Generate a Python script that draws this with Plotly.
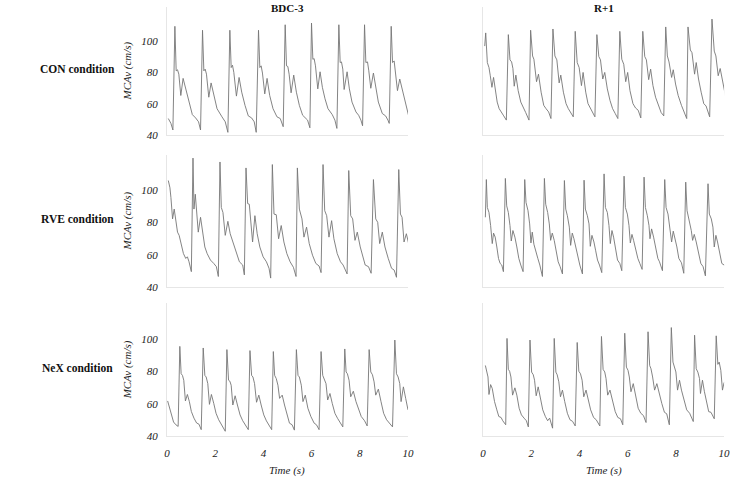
import plotly.graph_objects as go

# ---------------- data: MCAv (cm/s) vs time (s) ----------------
con_bdc_t = [0.055,0.164,0.246,0.328,0.382,0.437,0.492,0.574,0.669,0.779,0.915,1.052,1.188,1.311,
             1.393,1.475,1.530,1.585,1.639,1.735,1.831,1.940,2.076,2.281,2.418,
             2.527,2.609,2.664,2.718,2.773,2.882,2.992,3.101,3.238,3.374,3.511,3.620,
             3.702,3.798,3.852,3.907,3.962,4.057,4.153,4.262,4.399,4.563,4.699,
             4.822,4.904,4.959,5.014,5.068,5.150,5.259,5.369,5.492,5.628,5.833,
             5.929,5.997,6.052,6.106,6.161,6.257,6.352,6.448,6.557,6.680,6.858,6.967,
             7.049,7.131,7.186,7.240,7.295,7.350,7.473,7.568,7.677,7.841,7.951,8.046,
             8.115,8.197,8.251,8.320,8.374,8.456,8.565,8.661,8.770,8.934,9.071,9.167,
             9.221,9.303,9.358,9.426,9.481,9.563,9.658,9.754,9.836,9.932,10.027]
con_bdc_v = [50.7,47.6,43.4,109.5,81.1,81.8,79.0,65.4,76.3,69.6,60.2,53.2,51.1,48.6,
             43.4,107.0,81.1,82.2,79.0,64.3,73.4,65.4,57.0,51.8,48.6,
             41.9,107.0,83.2,84.7,80.1,65.0,76.9,67.5,59.1,52.4,51.1,48.6,
             41.9,107.0,83.2,84.3,79.7,66.4,76.3,65.4,57.0,51.8,50.7,
             45.5,110.5,84.3,83.9,79.0,67.1,78.4,67.5,59.1,52.8,49.7,
             44.8,111.6,88.5,88.9,84.3,69.6,80.5,70.6,63.3,57.0,53.2,49.7,
             44.4,110.5,86.4,86.8,82.2,69.2,80.5,69.6,61.2,54.9,52.8,49.7,
             46.1,110.5,86.4,86.8,81.1,70.0,79.7,69.6,61.2,53.9,52.4,49.7,
             47.6,109.5,86.4,87.4,81.1,68.5,75.9,69.6,65.0,58.7,52.4]

con_r1_t = [0.068,0.109,0.177,0.245,0.299,0.367,0.435,0.503,0.585,0.667,0.776,0.857,
            0.966,1.048,1.116,1.184,1.238,1.293,1.361,1.456,1.565,1.673,1.769,
            1.905,1.973,2.054,2.109,2.218,2.299,2.408,2.517,2.612,2.721,
            2.816,2.898,2.980,3.061,3.156,3.224,3.333,3.442,3.537,3.633,
            3.742,3.823,3.905,3.986,4.082,4.150,4.259,4.354,4.449,4.531,
            4.640,4.721,4.803,4.871,4.966,5.048,5.156,5.265,5.374,5.483,
            5.592,5.673,5.755,5.837,5.918,6.000,6.095,6.218,6.327,6.435,
            6.544,6.626,6.708,6.776,6.871,6.952,7.048,7.156,7.279,7.388,
            7.497,7.578,7.646,7.714,7.823,7.891,7.986,8.095,8.231,8.327,
            8.449,8.503,8.599,8.667,8.776,8.844,8.939,9.048,9.156,9.252,
            9.401,9.497,9.592,9.660,9.755,9.837,9.932,10.068]
con_r1_v = [96.9,105.3,86.4,83.2,78.0,70.6,76.9,69.6,61.2,57.0,53.9,52.4,
            49.7,104.2,88.1,86.8,82.6,71.3,78.4,68.5,61.2,57.0,54.5,
            49.7,107.0,90.6,88.5,74.2,79.0,67.5,59.1,57.0,54.9,
            50.7,107.8,90.6,88.1,73.4,78.4,67.5,60.2,57.0,54.9,
            51.8,106.3,86.4,83.2,71.7,80.1,67.5,60.2,57.4,55.3,
            51.8,104.2,90.2,88.1,75.9,80.1,69.6,62.3,57.0,53.9,
            50.7,106.3,88.5,85.3,74.2,80.1,68.5,60.2,57.4,56.0,
            51.1,106.3,90.2,88.1,75.5,82.2,71.7,64.3,59.1,54.5,
            52.4,109.1,90.6,86.8,76.9,81.8,72.7,65.4,59.1,55.3,
            50.7,109.1,94.4,92.7,79.0,86.4,75.9,67.5,60.2,58.7,
            51.8,114.1,93.7,90.6,78.0,82.6,73.8,64.3]

rve_bdc_t = [0.055,0.123,0.164,0.232,0.300,0.369,0.437,0.505,0.601,0.683,0.779,0.847,0.915,
             1.011,1.079,1.120,1.175,1.229,1.298,1.393,1.475,1.571,1.667,1.803,1.940,2.049,
             2.131,2.199,2.254,2.322,2.418,2.527,2.623,2.732,2.869,3.005,3.142,
             3.210,3.279,3.347,3.415,3.552,3.648,3.743,3.852,3.989,4.126,4.235,
             4.303,4.372,4.440,4.535,4.631,4.740,4.850,4.973,5.109,5.246,
             5.355,5.410,5.492,5.601,5.683,5.792,5.902,6.038,6.175,6.311,
             6.393,6.475,6.544,6.626,6.721,6.831,6.926,7.063,7.200,7.309,
             7.473,7.541,7.623,7.705,7.801,7.896,8.019,8.115,8.224,8.361,
             8.470,8.566,8.661,8.743,8.825,8.934,9.044,9.180,9.317,9.426,
             9.522,9.617,9.686,9.754,9.836,9.932,10.027]
rve_bdc_v = [106.1,101.6,95.5,82.3,88.4,79.2,74.1,72.1,64.9,60.8,57.8,58.8,55.7,
             49.6,120.0,88.4,97.6,87.4,74.1,83.3,73.1,64.9,60.8,56.8,54.7,52.7,
             46.6,117.6,89.4,86.3,72.1,80.8,73.1,68.0,60.8,55.7,53.7,
             47.6,113.9,91.8,91.4,68.0,84.3,73.1,64.9,58.8,55.7,51.7,
             45.6,116.0,85.3,84.9,70.0,78.2,68.0,60.8,55.7,52.3,
             46.6,113.9,88.4,82.3,71.0,77.2,67.0,59.8,54.7,53.1,
             49.0,116.0,87.4,84.3,71.0,81.2,70.0,60.8,55.7,53.7,
             48.2,112.3,84.3,82.3,69.0,74.1,64.9,58.8,53.7,52.7,
             48.6,106.7,82.3,80.2,67.0,74.1,64.9,57.8,51.7,50.6,
             46.1,112.9,85.3,83.3,68.0,73.1,67.0]

rve_r1_t = [0.095,0.136,0.177,0.245,0.313,0.381,0.435,0.503,0.571,0.640,0.708,0.776,
            0.844,0.925,0.980,1.048,1.116,1.170,1.238,1.320,1.401,1.483,1.565,
            1.660,1.728,1.782,1.864,1.932,1.986,2.041,2.109,2.191,2.272,2.354,
            2.463,2.544,2.599,2.680,2.748,2.803,2.871,2.952,3.034,3.116,3.197,
            3.293,3.374,3.429,3.497,3.578,3.633,3.701,3.769,3.850,3.932,4.014,
            4.122,4.190,4.245,4.327,4.395,4.449,4.517,4.599,4.667,4.748,4.830,
            4.925,5.020,5.075,5.156,5.224,5.279,5.347,5.415,5.483,5.578,5.673,
            5.755,5.850,5.905,5.986,6.054,6.109,6.177,6.245,6.327,6.422,6.503,
            6.599,6.680,6.735,6.816,6.884,6.925,6.993,7.075,7.156,7.252,7.320,
            7.442,7.537,7.592,7.673,7.755,7.823,7.891,7.959,8.041,8.122,8.231,
            8.327,8.408,8.463,8.544,8.639,8.694,8.762,8.844,8.939,9.034,9.129,
            9.224,9.333,9.388,9.469,9.537,9.592,9.660,9.728,9.823,9.905,10.000,10.082]
rve_r1_v = [83.3,106.7,89.4,86.3,78.2,67.0,73.5,71.0,64.9,57.8,54.7,53.7,
            49.6,107.4,90.4,86.3,78.2,68.6,75.1,71.0,64.9,57.8,53.7,
            49.6,106.7,92.5,87.4,79.2,67.4,74.1,66.6,62.9,57.8,53.7,
            46.6,107.4,91.4,86.3,79.2,69.0,73.5,69.0,62.9,55.7,52.7,
            48.2,106.1,88.4,84.3,77.2,65.9,73.5,70.0,63.9,57.8,53.7,
            48.2,106.3,88.4,84.3,79.2,65.3,72.1,68.0,62.9,56.8,53.7,
            49.0,110.2,89.4,86.3,78.2,67.0,75.1,71.0,63.9,56.8,54.7,
            50.2,108.8,89.4,85.3,78.2,67.4,72.7,69.0,62.9,57.8,54.7,
            51.0,108.2,89.4,84.3,78.2,70.0,76.1,71.0,64.9,57.8,55.7,
            50.2,106.7,89.4,85.3,77.2,68.0,74.7,71.0,64.9,57.8,55.1,
            48.6,105.1,87.4,82.3,75.1,69.0,72.7,68.0,60.8,54.7,52.7,
            47.0,104.1,85.3,82.3,77.2,64.9,72.1,68.0,60.8,54.7,53.7,53.1]

nex_bdc_t = [0.027,0.123,0.205,0.273,0.369,0.464,
             0.533,0.587,0.642,0.697,0.765,0.847,0.929,1.011,1.120,1.229,1.325,
             1.421,1.503,1.571,1.626,1.694,1.762,1.844,1.940,2.036,2.145,2.254,
             2.418,2.486,2.555,2.609,2.664,2.732,2.828,2.923,3.033,3.142,3.251,
             3.374,3.443,3.511,3.566,3.634,3.716,3.811,3.907,4.016,4.126,4.235,
             4.344,4.413,4.467,4.535,4.604,4.672,4.781,4.877,4.973,5.082,5.191,
             5.287,5.369,5.437,5.492,5.574,5.642,5.738,5.847,5.970,6.107,6.202,
             6.311,6.393,6.462,6.530,6.598,6.667,6.762,6.858,6.967,7.077,7.186,
             7.295,7.377,7.432,7.486,7.555,7.623,7.732,7.842,7.951,8.060,8.197,
             8.306,8.388,8.456,8.525,8.593,8.661,8.770,8.880,8.989,9.112,9.235,
             9.358,9.454,9.522,9.590,9.658,9.713,9.809,9.904,10.000]
nex_bdc_v = [61.8,56.3,51.2,48.8,47.1,46.1,
             95.5,78.6,77.6,74.6,61.8,65.8,61.4,55.3,51.2,48.2,47.5,
             44.1,94.5,77.6,76.6,72.5,59.7,65.8,60.3,54.2,50.2,47.1,
             43.1,93.5,74.6,74.0,71.5,59.3,65.0,59.3,53.2,49.6,47.1,
             44.1,92.9,77.6,76.6,72.5,61.0,65.4,59.3,53.2,49.5,47.1,
             44.1,92.3,77.6,75.6,71.5,63.4,65.4,59.3,53.2,48.1,47.1,
             43.8,93.5,77.6,76.6,71.5,61.4,65.4,57.3,52.2,48.1,47.1,
             44.1,92.3,77.6,75.2,72.5,62.4,66.4,60.3,54.2,51.1,48.1,
             45.8,93.9,79.7,78.6,74.6,64.4,67.8,61.4,56.3,52.2,49.6,
             46.4,93.5,79.7,78.0,73.6,65.4,69.1,61.4,54.2,50.2,48.1,
             45.8,99.4,78.6,76.6,72.5,61.4,70.5,63.4,56.3]

nex_r1_t = [0.095,0.136,0.204,0.245,0.313,0.381,0.476,0.571,0.653,0.748,0.816,
            0.939,0.993,1.048,1.102,1.156,1.224,1.320,1.401,1.497,1.592,1.701,1.796,
            1.878,1.946,2.014,2.082,2.136,2.204,2.286,2.381,2.476,2.585,2.680,2.762,
            2.884,2.952,3.020,3.075,3.143,3.211,3.293,3.388,3.497,3.605,3.714,
            3.823,3.905,3.973,4.041,4.109,4.177,4.272,4.367,4.463,4.585,4.694,
            4.844,4.912,4.980,5.048,5.102,5.170,5.265,5.374,5.483,5.592,5.701,
            5.796,5.878,5.946,6.014,6.068,6.136,6.231,6.327,6.435,6.544,6.653,
            6.762,6.844,6.912,6.966,7.034,7.116,7.211,7.306,7.415,7.524,7.619,
            7.728,7.810,7.878,7.932,8.000,8.068,8.150,8.231,8.340,8.449,8.571,8.639,
            8.721,8.776,8.844,8.912,8.980,9.020,9.102,9.184,9.279,9.361,9.456,
            9.592,9.673,9.741,9.796,9.864,9.932,10.000,10.041]
nex_r1_v = [83.7,80.7,76.6,65.8,71.9,69.5,61.4,56.3,52.2,51.6,49.6,
            47.1,100.4,81.3,80.1,76.6,65.4,69.9,65.4,57.3,53.2,51.2,49.6,
            45.8,99.4,79.6,78.0,74.6,65.0,70.5,63.4,56.3,52.2,49.6,51.2,
            45.0,100.4,79.6,78.0,73.6,64.4,68.5,61.4,54.2,50.2,49.2,
            46.4,97.9,80.1,78.6,74.6,64.4,68.5,62.4,56.3,51.6,50.2,
            46.4,101.6,81.3,79.7,75.6,65.4,68.5,61.4,55.2,51.6,50.8,
            47.1,103.6,82.7,80.7,76.6,67.5,72.5,65.4,57.3,54.2,52.8,
            48.5,104.5,83.7,81.7,76.6,68.5,72.5,66.4,60.3,54.8,53.9,
            47.1,107.1,85.8,82.7,79.7,68.5,74.6,68.5,61.8,56.3,54.2,51.6,
            49.1,102.4,81.7,79.6,75.6,66.4,74.6,67.5,60.3,55.2,54.8,
            50.8,102.0,84.4,85.8,80.7,68.5,73.2,73.5]

row_labels = ["CON condition", "RVE condition", "NeX condition"]
col_labels = ["BDC-3", "R+1"]
x_ticks = [0, 2, 4, 6, 8, 10]
y_ticks = [40, 60, 80, 100]
y_title = "MCAv (cm/s)"
x_title = "Time (s)"

series = [
    [(con_bdc_t, con_bdc_v), (con_r1_t, con_r1_v)],
    [(rve_bdc_t, rve_bdc_v), (rve_r1_t, rve_r1_v)],
    [(nex_bdc_t, nex_bdc_v), (nex_r1_t, nex_r1_v)],
]

# ---------------- layout geometry (pixels of 738x489 canvas) ----------------
W, H = 738, 489
col_px = [(166, 410), (486, 730)]
row_px = [(6.8, 137.0), (156.8, 290.7), (307.2, 441.7)]

SERIF = "Liberation Serif"
LINE = "#e6e6e6"

fig = go.Figure()
layout = dict(
    width=W, height=H, margin=dict(l=0, r=0, t=0, b=0),
    paper_bgcolor="white", plot_bgcolor="white", showlegend=False,
    font=dict(family=SERIF, size=11, color="#222"),
)

for r in range(3):
    for c in range(2):
        i = r * 2 + c + 1
        xs, ys = series[r][c]
        fig.add_trace(go.Scatter(
            x=xs, y=ys, mode="lines",
            line=dict(color="#767676", width=0.9),
            xaxis=f"x{i}", yaxis=f"y{i}", hoverinfo="skip",
        ))
        x0, x1 = col_px[c]
        ytop, ybot = row_px[r]
        key = "" if i == 1 else str(i)
        layout[f"xaxis{key}"] = dict(
            domain=[x0 / W, x1 / W], anchor=f"y{i}", range=[0, 10],
            tickvals=x_ticks, showticklabels=(r == 2), ticks="",
            ticklabelstandoff=7,
            tickfont=dict(family=SERIF, size=11, style="italic", color="#222"),
            showgrid=False, zeroline=False, showline=True, linecolor=LINE,
            linewidth=1, fixedrange=True,
        )
        layout[f"yaxis{key}"] = dict(
            domain=[1 - ybot / H, 1 - ytop / H], anchor=f"x{i}", range=[40, 122],
            tickvals=y_ticks, showticklabels=(c == 0), ticks="",
            ticklabelstandoff=6,
            tickfont=dict(family=SERIF, size=11, style="italic", color="#222"),
            showgrid=False, zeroline=False, showline=True, linecolor=LINE,
            linewidth=1, fixedrange=True,
        )

ann = []
for c in range(2):
    xc = (col_px[c][0] + col_px[c][1]) / 2 / W
    ann.append(dict(text=f"<b>{col_labels[c]}</b>", x=xc, y=1 - 8 / H,
                    xref="paper", yref="paper", showarrow=False,
                    xanchor="center", yanchor="middle",
                    font=dict(family=SERIF, size=11, color="#111")))
    ann.append(dict(text=x_title, x=xc, y=1 - 476 / H,
                    xref="paper", yref="paper", showarrow=False,
                    xanchor="center", yanchor="middle",
                    font=dict(family=SERIF, size=11, style="italic", color="#222")))
for r in range(3):
    yc = 1 - (row_px[r][0] + row_px[r][1]) / 2 / H
    ann.append(dict(text=f"<b>{row_labels[r]}</b>", x=75 / W, y=yc + 0.004,
                    xref="paper", yref="paper", showarrow=False,
                    xanchor="center", yanchor="middle",
                    font=dict(family=SERIF, size=11.5, color="#111")))
    ann.append(dict(text=y_title, x=126 / W, y=yc, textangle=-90,
                    xref="paper", yref="paper", showarrow=False,
                    xanchor="center", yanchor="middle",
                    font=dict(family=SERIF, size=11, style="italic", color="#222")))
layout["annotations"] = ann

fig.update_layout(**layout)
fig.write_html("out.html", config={"displayModeBar": False},
               post_script="document.body.style.margin='0';")
